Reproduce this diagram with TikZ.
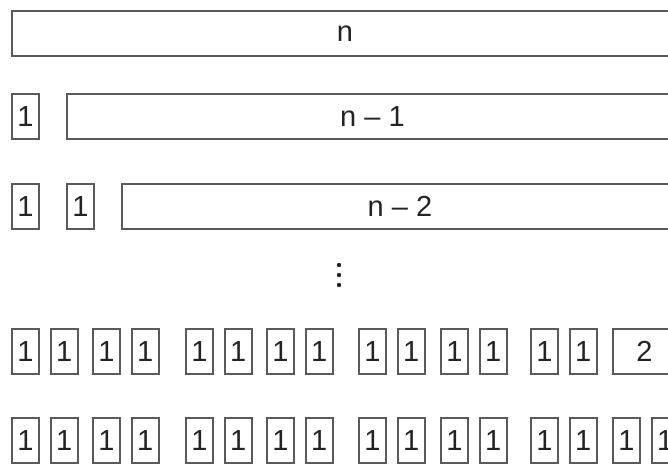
\documentclass[tikz,border=0pt]{standalone}
\usepackage{fontspec}
\setmainfont{Liberation Sans}
\usetikzlibrary{positioning}
\definecolor{boxline}{RGB}{90,90,90}
\definecolor{txtdark}{RGB}{35,35,35}
\tikzset{
  cell/.style={rectangle, draw=boxline, line width=1.8pt, inner sep=0pt,
    anchor=north west, minimum height=45pt, text=txtdark,
    font=\fontsize{29}{29}\selectfont},
  onecell/.style={cell, minimum width=27pt},
  longcell/.style={cell, minimum width=#1}
}
\begin{document}
\begin{tikzpicture}[x=1pt, y=-1pt]
  \path[use as bounding box, clip] (0,0) rectangle (668,464);

  % row n
  \node[longcell=666pt] (rn) at (11,10) {n};

  % row 1, n-1
  \node[onecell] (ra1) at (11,93) {1};
  \node[longcell=611pt] (rn1) at (66,93) {n -- 1};

  % row 1, 1, n-2
  \node[onecell] (rb1) at (11,183) {1};
  \node[onecell] (rb2) at (66,183) {1};
  \node[longcell=556pt] (rn2) at (121,183) {n -- 2};

  % dots
  \coordinate (dots) at (339,275);
  \foreach \d in {-10,0,10}
    \fill[txtdark] ([yshift=\d pt]dots) circle (2.2pt);

  % row 1 ... 1, 2
  \foreach \p [count=\i] in {11,92,185,266,358,440,530} {
    \node[onecell] (rc\i a) at (\p,328) {1};
    \node[onecell, right=10pt of rc\i a.north east, anchor=north west] (rc\i b) {1};
  }
  \node[longcell=63pt] (rc2) at (612,328) {2};

  % row 1 ... 1
  \foreach \p [count=\i] in {11,92,185,266,358,440,530,612} {
    \node[onecell] (rd\i a) at (\p,417) {1};
    \node[onecell, right=10pt of rd\i a.north east, anchor=north west] (rd\i b) {1};
  }
\end{tikzpicture}
\end{document}
